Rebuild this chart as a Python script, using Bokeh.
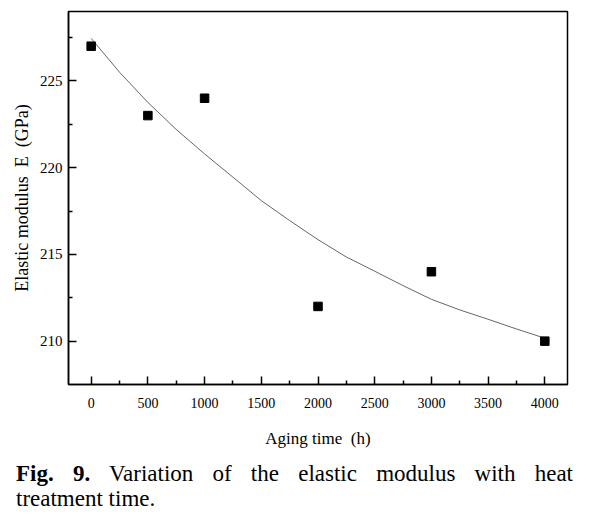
from bokeh.plotting import figure
from bokeh.models import Range1d, FixedTicker, Div
from bokeh.layouts import column
from bokeh.embed import file_html
from bokeh.resources import INLINE

# ---- data ----
aging_time = [0, 500, 1000, 2000, 3000, 4000]
modulus = [227, 223, 224, 212, 214, 210]

fit_time = [0, 250, 500, 750, 1000, 1250, 1500, 1750, 2000, 2250, 2500,
            2750, 3000, 3250, 3500, 3750, 4000]
fit_modulus = [227.45, 225.5, 223.76, 222.2, 220.79, 219.45, 218.1, 216.95,
               215.85, 214.85, 214.03, 213.2, 212.41, 211.8, 211.26, 210.7, 210.17]

x_ticks = [0, 500, 1000, 1500, 2000, 2500, 3000, 3500, 4000]
x_minor = [250, 750, 1250, 1750, 2250, 2750, 3250, 3750]
y_ticks = [210, 215, 220, 225]
y_minor = [212.5, 217.5, 222.5, 227.5]

caption_bold = ["Fig.", "9."]
caption_line1 = "Variation of the elastic modulus with heat"
caption_line2 = "treatment time."

# ---- geometry ----
W, H = 594, 450
FL, FR, FT, FB = 68, 567, 11, 387   # frame edges in figure pixels
X0, X1 = -200, 4200
Y0, Y1 = 207.5, 229

p = figure(width=W, height=H, x_range=Range1d(X0, X1), y_range=Range1d(Y0, Y1),
           output_backend="svg", toolbar_location=None,
           min_border_left=FL, min_border_right=W - FR,
           min_border_top=FT, min_border_bottom=H - FB)
p.xgrid.visible = False
p.ygrid.visible = False
p.outline_line_color = "black"
p.outline_line_width = 1.5
p.outline_line_alpha = 1.0
p.background_fill_color = "white"
p.border_fill_color = "white"

p.line(fit_time, fit_modulus, line_color="#555555", line_width=0.9)
p.scatter(aging_time, modulus, marker="square", size=8.5,
          fill_color="black", line_color="black")

serif = "Liberation Serif"
for ax in (p.xaxis[0], p.yaxis[0]):
    ax.axis_line_color = "black"
    ax.axis_line_width = 1.5
    ax.major_tick_line_color = "black"
    ax.major_tick_line_width = 1.5
    ax.minor_tick_line_color = "black"
    ax.minor_tick_line_width = 1.5
    ax.major_tick_in = 8
    ax.major_tick_out = 0
    ax.minor_tick_in = 4
    ax.minor_tick_out = 0
    ax.major_label_text_font = serif
    ax.major_label_text_color = "black"
    ax.axis_label_text_font = serif
    ax.axis_label_text_font_style = "normal"
    ax.axis_label_text_color = "black"

p.xaxis.ticker = FixedTicker(ticks=x_ticks, minor_ticks=x_minor)
p.yaxis.ticker = FixedTicker(ticks=y_ticks, minor_ticks=y_minor)
p.xaxis.major_label_text_font_size = "14px"
p.yaxis.major_label_text_font_size = "15px"
p.xaxis.axis_label_text_font_size = "17px"
p.yaxis.axis_label_text_font_size = "18px"
p.xaxis.major_label_standoff = 13
p.yaxis.major_label_standoff = 6
p.xaxis.axis_label = "Aging time\u00a0\u00a0(h)"
p.yaxis.axis_label = "Elastic modulus\u00a0\u00a0E\u00a0\u00a0(GPa)"
p.xaxis.axis_label_standoff = 18
p.yaxis.axis_label_standoff = 5

html = (
    "<div style=\"font-family:'Liberation Serif',serif;font-size:23px;line-height:25px;"
    "color:black;width:568px;padding-left:11px;padding-top:6px;\">"
    "<div style=\"text-align:justify;text-align-last:justify;white-space:normal;\">"
    f"<b>{caption_bold[0]}</b> <b>{caption_bold[1]}</b> {caption_line1}</div>"
    f"<div style=\"text-align:left;\">{caption_line2}</div>"
    "</div>"
)
cap = Div(text=html, width=W, height=518 - H)

layout = column(p, cap, spacing=0)
open("out.html", "w").write(file_html(layout, INLINE))
